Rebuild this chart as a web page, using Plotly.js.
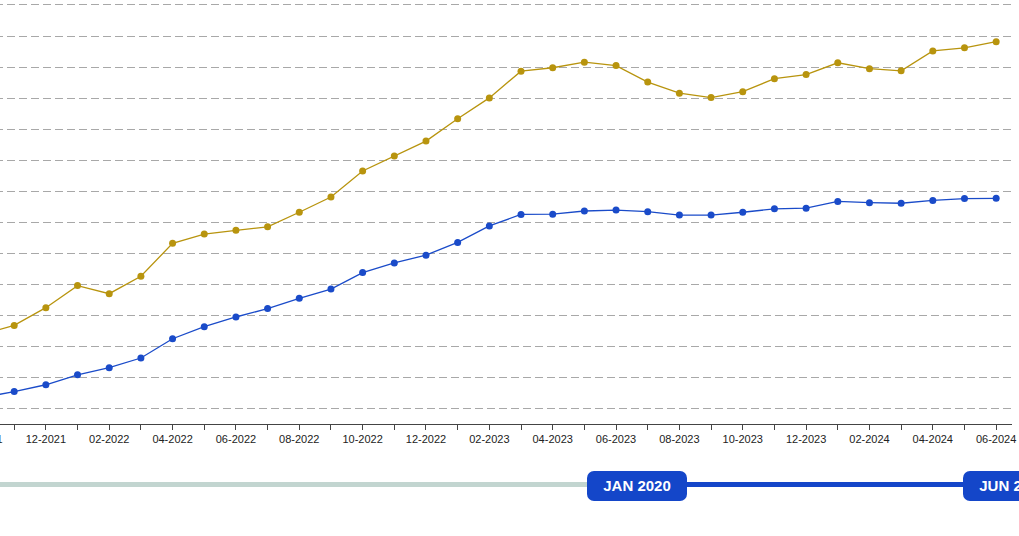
<!DOCTYPE html>
<html>
<head>
<meta charset="utf-8">
<script src="https://cdn.plot.ly/plotly-3.0.1.min.js"></script>
<style>
  html, body { margin: 0; padding: 0; background: #ffffff; overflow: hidden; width: 1019px; height: 536px; position: relative; }
  #chart { position: absolute; left: -65px; top: 0px; width: 1097px; height: 450px; }
  .track { position: absolute; height: 5px; top: 482px; }
  .pill { position: absolute; top: 471px; width: 100px; height: 30px; background: #1446c9; border-radius: 7px;
          color: #ffffff; font-family: "Liberation Sans", Arial, sans-serif; font-weight: bold; font-size: 15px;
          line-height: 30px; text-align: center; white-space: nowrap; }
</style>
</head>
<body>
<div id="chart"></div>
<div class="track" style="left:0px; width:590px; background:#c2d5d0;"></div>
<div class="track" style="left:684px; width:282px; background:#1446c9;"></div>
<div class="pill" style="left:587px;">JAN 2020</div>
<div class="pill" style="left:963px;">JUN 2024</div>
<script>
// Monthly categories
const months = ["10-2021","11-2021","12-2021","01-2022","02-2022","03-2022","04-2022","05-2022","06-2022",
  "07-2022","08-2022","09-2022","10-2022","11-2022","12-2022","01-2023","02-2023","03-2023","04-2023",
  "05-2023","06-2023","07-2023","08-2023","09-2023","10-2023","11-2023","12-2023","01-2024","02-2024",
  "03-2024","04-2024","05-2024","06-2024"];

// Upper series (gold)
const goldValues = [44.0, 46.9, 52.6, 59.7, 57.1, 62.7, 73.3, 76.3, 77.5, 78.6, 83.3, 88.2, 96.6, 101.4,
  106.2, 113.4, 120.1, 128.7, 129.8, 131.6, 130.5, 125.2, 121.6, 120.2, 122.1, 126.3, 127.6, 131.4, 129.5,
  128.8, 135.2, 136.2, 138.2];

// Lower series (blue)
const blueValues = [23.7, 25.6, 27.8, 31.0, 33.3, 36.4, 42.6, 46.5, 49.6, 52.3, 55.6, 58.6, 63.9, 67.0,
  69.5, 73.6, 78.9, 82.6, 82.7, 83.7, 84.0, 83.5, 82.4, 82.4, 83.3, 84.4, 84.6, 86.8, 86.4, 86.2, 87.1,
  87.7, 87.8];

// Tick labels: every second month labelled
const tickLabels = months.map((m, i) => (i % 2 === 0 ? m : ""));

const traces = [
  {
    x: months, y: goldValues, type: "scatter", mode: "lines+markers", name: "Gold",
    line: { color: "#b8940e", width: 1.3 },
    marker: { color: "#b8940e", size: 7 },
    cliponaxis: true, hoverinfo: "x+y"
  },
  {
    x: months, y: blueValues, type: "scatter", mode: "lines+markers", name: "Blue",
    line: { color: "#1a4bc9", width: 1.3 },
    marker: { color: "#1a4bc9", size: 7 },
    cliponaxis: true, hoverinfo: "x+y"
  }
];

const layout = {
  width: 1097, height: 450,
  margin: { l: 0, r: 20, t: 0, b: 26 },
  paper_bgcolor: "rgba(0,0,0,0)",
  plot_bgcolor: "rgba(0,0,0,0)",
  showlegend: false,
  xaxis: {
    type: "category",
    range: [-1.5, 32.5],
    tickmode: "array",
    tickvals: months,
    ticktext: tickLabels,
    ticks: "outside", ticklen: 5, tickcolor: "#444", tickwidth: 1,
    showline: true, linecolor: "#444", linewidth: 1,
    showgrid: false, zeroline: false,
    tickangle: 0,
    tickfont: { family: "Liberation Sans, Arial, sans-serif", size: 11, color: "#222" }
  },
  yaxis: {
    range: [15.17, 151.6],
    tick0: 0, dtick: 10,
    showticklabels: false,
    showgrid: true, gridcolor: "#a8a8a8", gridwidth: 1, griddash: "8px,4px",
    zeroline: false, showline: false, ticks: ""
  }
};

Plotly.newPlot("chart", traces, layout, { displayModeBar: false, staticPlot: false });
</script>
</body>
</html>
